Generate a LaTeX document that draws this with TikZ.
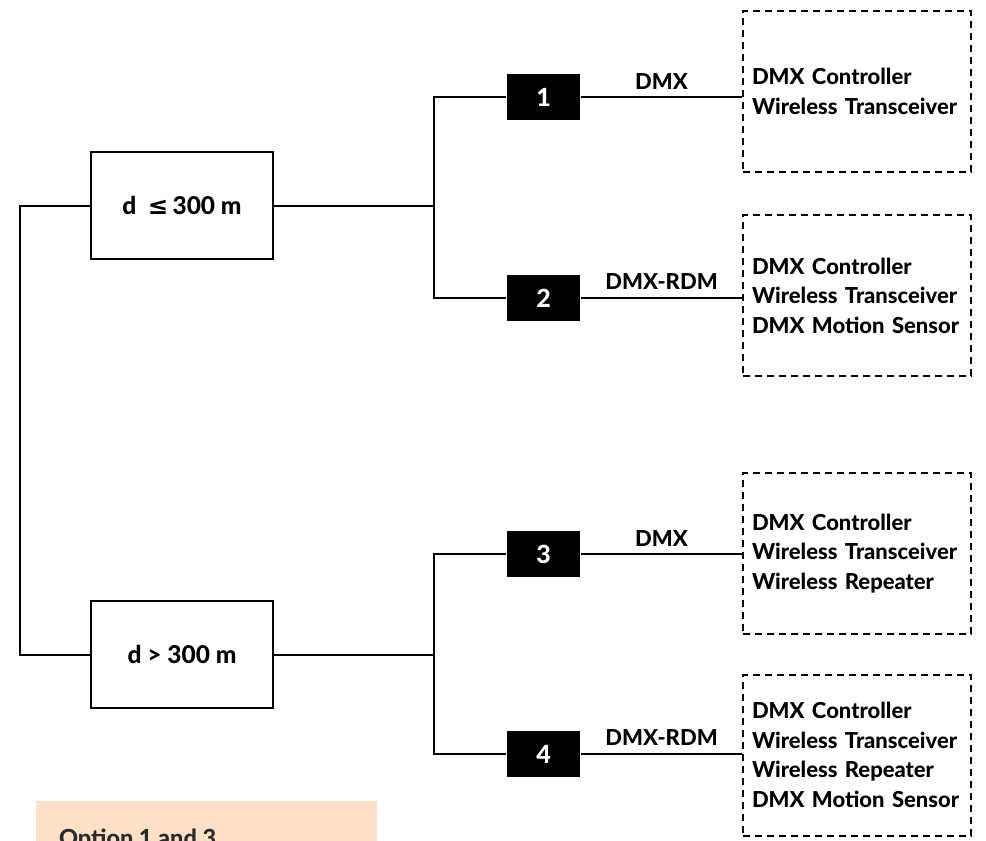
\documentclass[tikz,border=0pt]{standalone}
\usepackage{fontspec}
\setmainfont{Lato}[BoldFont={* Heavy}]
\newfontfamily\symfont{DejaVu Sans}
\definecolor{keyfill}{HTML}{FCE1C7}
\definecolor{keytext}{HTML}{2B2B2B}
\begin{document}
\begin{tikzpicture}[x=1pt,y=-1pt,line width=2pt,
  font=\fontsize{22}{29.5}\selectfont\bfseries,
  rangebox/.style={draw,minimum width=182pt,minimum height=107pt,font=\fontsize{24.5}{29.5}\selectfont\bfseries},
  optbox/.style={fill=black,text=white,minimum width=73pt,minimum height=46pt,inner sep=0pt,font=\fontsize{25}{29.5}\selectfont\bfseries},
  devbox/.style={draw,dash pattern=on 7pt off 5pt,text width=210pt,align=left,inner xsep=9pt,minimum height=161pt}]
\clip (0,0) rectangle (986,841);

\node[rangebox] (near) at (182,205.5) {d\ \ {\symfont\bfseries ≤}\,300 m};
\node[rangebox] (far) at (182,654.5) {d > 300 m};

\node[optbox] (opt1) at (543.5,97) {1};
\node[optbox] (opt2) at (543.5,298) {2};
\node[optbox] (opt3) at (543.5,554) {3};
\node[optbox] (opt4) at (543.5,754) {4};

\node[devbox] (dev1) at (857,91.5) {DMX Controller\\Wireless Transceiver};
\node[devbox] (dev2) at (857,295.5) {DMX Controller\\Wireless Transceiver\\DMX Motion Sensor};
\node[devbox] (dev3) at (857,553.5) {DMX Controller\\Wireless Transceiver\\Wireless Repeater};
\node[devbox] (dev4) at (857,755) {DMX Controller\\Wireless Transceiver\\Wireless Repeater\\DMX Motion Sensor};

\coordinate (bus) at (20,430);
\coordinate (split1) at (434,205.5);
\coordinate (split2) at (434,654.5);

\draw (near.west) -| (bus) |- (far.west);
\draw (near.east) -- (split1);
\draw (far.east) -- (split2);
\draw (opt1.west) -| (split1) |- (opt2.west);
\draw (opt3.west) -| (split2) |- (opt4.west);

\draw (opt1.east) -- (opt1.east -| dev1.west) node[midway,above=3pt] {DMX};
\draw (opt2.east) -- (opt2.east -| dev2.west) node[midway,above=4pt] {DMX-RDM};
\draw (opt3.east) -- (opt3.east -| dev3.west) node[midway,above=3pt] {DMX};
\draw (opt4.east) -- (opt4.east -| dev4.west) node[midway,above=4pt] {DMX-RDM};

\node[fill=keyfill,anchor=north west,minimum width=341pt,minimum height=80pt] (key) at (35,800) {};
\node[anchor=base west,text=keytext,inner sep=0pt,font=\fontsize{23.5}{28}\selectfont\bfseries] (keylabel) at (58,846) {Option 1 and 3};
\end{tikzpicture}
\end{document}
